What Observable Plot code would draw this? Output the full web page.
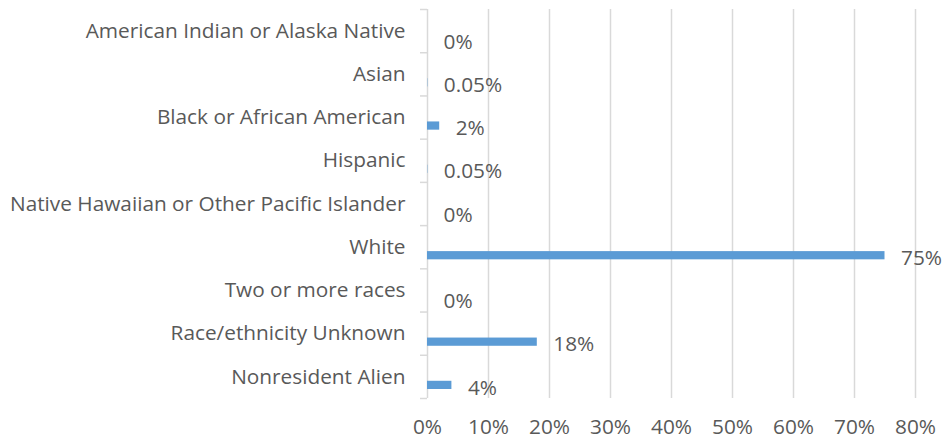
<!DOCTYPE html>
<html>
<head>
<meta charset="utf-8">
<script src="https://cdn.jsdelivr.net/npm/d3@7"></script>
<script src="https://cdn.jsdelivr.net/npm/@observablehq/plot@0.6"></script>
<style>
  html, body { margin: 0; padding: 0; background: #fff; }
  #chart { width: 945px; height: 445px; }
</style>
</head>
<body>
<div id="chart"></div>
<script>
const categories = [
  "American Indian or Alaska Native",
  "Asian",
  "Black or African American",
  "Hispanic",
  "Native Hawaiian or Other Pacific Islander",
  "White",
  "Two or more races",
  "Race/ethnicity Unknown",
  "Nonresident Alien"
];
const values = [0, 0.0005, 0.02, 0.0005, 0, 0.75, 0, 0.18, 0.04];
const valueLabels = ["0%", "0.05%", "2%", "0.05%", "0%", "75%", "0%", "18%", "4%"];
const xTicks = [0, 0.1, 0.2, 0.3, 0.4, 0.5, 0.6, 0.7, 0.8];

const rows = categories.map((c, i) => ({cat: c, value: values[i], label: valueLabels[i], i}));
const boundaries = d3.range(categories.length + 1);

const textColor = "#595959";
const font = "'Open Sans', 'DejaVu Sans', sans-serif";
const fs = 20.8;

const chart = Plot.plot({
  width: 945,
  height: 445,
  marginLeft: 427,
  marginRight: 30,
  marginTop: 9,
  marginBottom: 47,
  style: {fontFamily: font, fontSize: fs + "px", color: textColor, background: "#fff"},
  x: {domain: [0, 0.8]},
  y: {domain: [0, categories.length], reverse: true},
  marks: [
    Plot.ruleX(xTicks.slice(1), {stroke: "#d9d9d9", strokeWidth: 1.5, strokeOpacity: 1}),
    Plot.ruleX([0], {stroke: "#d9d9d9", strokeWidth: 1.5}),
    Plot.axisY({ticks: boundaries, tickSize: 7, tickFormat: () => "", stroke: "#d9d9d9", strokeWidth: 1.5, label: null}),
    Plot.axisX({ticks: xTicks, tickSize: 0, tickPadding: 21, tickFormat: d3.format(".0%"), fontSize: fs, fill: textColor, label: null}),
    Plot.rectX(rows, {x1: 0, x2: "value", y1: "i", y2: d => d.i + 1, insetTop: 26, insetBottom: 9, fill: "#5B9BD5"}),
    Plot.text(rows, {x: 0, y: d => d.i + 0.5, text: "cat", textAnchor: "end", dx: -22, fill: textColor, fontSize: fs}),
    Plot.text(rows, {x: "value", y: d => d.i + 0.5, text: "label", textAnchor: "start", dx: 16, dy: 11, fill: textColor, fontSize: fs})
  ]
});
document.getElementById("chart").appendChild(chart);
</script>
</body>
</html>
